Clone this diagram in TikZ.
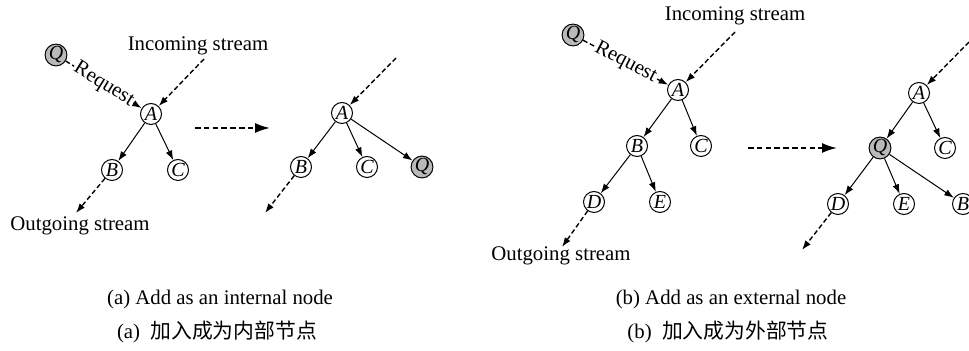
\documentclass[tikz,border=0pt]{standalone}
\usepackage{fontspec}
\setmainfont{Liberation Serif}
\newfontfamily\cjk{Noto Sans CJK SC}
\usetikzlibrary{arrows.meta,positioning}
\tikzset{%
	vertex/.style = {draw, circle, inner sep=0pt, minimum size=10.5pt, line width=0.5pt, font=\itshape}, % tree node
	query/.style  = {vertex, fill=gray!55}, % node Q
	edge/.style   = {line width=0.5pt, -{Latex[length=4.8pt,width=3.4pt]}}, % tree edge
	flow/.style   = {line width=0.7pt, dash pattern=on 2.4pt off 1.4pt, -{Latex[length=4.8pt,width=3.4pt]}}, % stream
	move/.style   = {line width=0.85pt, dash pattern=on 2.8pt off 1.6pt, -{Latex[length=7.5pt,width=5pt]}}, % before -> after
	txt/.style    = {inner sep=0pt},
}

\begin{document}
\begin{tikzpicture}[x=0.5pt,y=-0.5pt,font=\fontsize{10.4pt}{12pt}\selectfont]
	\useasboundingbox (0,0) rectangle (969,351);
	
	% (a) before
	\node[query]  (qa) at (56,55)   {Q};
	\node[vertex] (aa) at (151,114) {A};
	\node[vertex] (ba) at (112,170) {B};
	\node[vertex] (ca) at (178,170) {C};
	\node[txt] (ina) at (198,46) {Incoming stream};
	\node[txt] (outa) at (80,226) {Outgoing stream};
	\coordinate (ina0) at (204,59);
	\coordinate (outa0) at (76,213);
	\draw[flow] (qa) -- node[sloped, fill=white, inner sep=0.6pt] {Request} (aa);
	\draw[flow] (ina0) -- (aa);
	\draw[edge] (aa) -- (ba);
	\draw[edge] (aa) -- (ca);
	\draw[flow] (ba) -- (outa0);
	
	\coordinate (mva0) at (195,128);
	\coordinate (mva1) at (270,128);
	\draw[move] (mva0) -- (mva1);
	
	% (a) after
	\node[vertex] (a2) at (342,113) {A};
	\node[vertex] (b2) at (301,167) {B};
	\node[vertex] (c2) at (367,167) {C};
	\node[query]  (q2) at (422,167) {Q};
	\coordinate (in2) at (396,58);
	\coordinate (out2) at (265,213);
	\draw[flow] (in2) -- (a2);
	\draw[edge] (a2) -- (b2);
	\draw[edge] (a2) -- (c2);
	\draw[edge] (a2) -- (q2);
	\draw[flow] (b2) -- (out2);
	
	% (b) before
	\node[query]  (qb) at (573,35)  {Q};
	\node[vertex] (ab) at (678,90)  {A};
	\node[vertex] (bb) at (637,146) {B};
	\node[vertex] (cb) at (701,146) {C};
	\node[vertex] (db) at (594,202) {D};
	\node[vertex] (eb) at (660,202) {E};
	\node[txt] (inb) at (735,16) {Incoming stream};
	\node[txt] (outb) at (561,256) {Outgoing stream};
	\coordinate (inb0) at (735,32);
	\coordinate (outb0) at (562,247);
	\draw[flow] (qb) -- node[sloped, fill=white, inner sep=0.6pt] {Request} (ab);
	\draw[flow] (inb0) -- (ab);
	\draw[edge] (ab) -- (bb);
	\draw[edge] (ab) -- (cb);
	\draw[edge] (bb) -- (db);
	\draw[edge] (bb) -- (eb);
	\draw[flow] (db) -- (outb0);
	
	\coordinate (mvb0) at (748,148);
	\coordinate (mvb1) at (837,148);
	\draw[move] (mvb0) -- (mvb1);
	
	% (b) after
	\node[vertex] (a4) at (919,93)  {A};
	\node[query]  (q4) at (880,148) {Q};
	\node[vertex] (c4) at (945,148) {C};
	\node[vertex] (d4) at (838,204) {D};
	\node[vertex] (e4) at (904,204) {E};
	\node[vertex] (b4) at (963,204) {B};
	\coordinate (in4) at (969,42);
	\coordinate (out4) at (802,250);
	\draw[flow] (in4) -- (a4);
	\draw[edge] (a4) -- (q4);
	\draw[edge] (a4) -- (c4);
	\draw[edge] (q4) -- (d4);
	\draw[edge] (q4) -- (e4);
	\draw[edge] (q4) -- (b4);
	\draw[flow] (d4) -- (out4);
	
	% captions
	\node[txt] (capa)  at (220,300) {(a) Add as an internal node};
	\node[txt] (capa2) at (217,332) {(a)\enspace{\cjk 加入成为内部节点}};
	\node[txt] (capb)  at (731,300) {(b) Add as an external node};
	\node[txt] (capb2) at (728,332) {(b)\enspace{\cjk 加入成为外部节点}};
\end{tikzpicture}
\end{document}
